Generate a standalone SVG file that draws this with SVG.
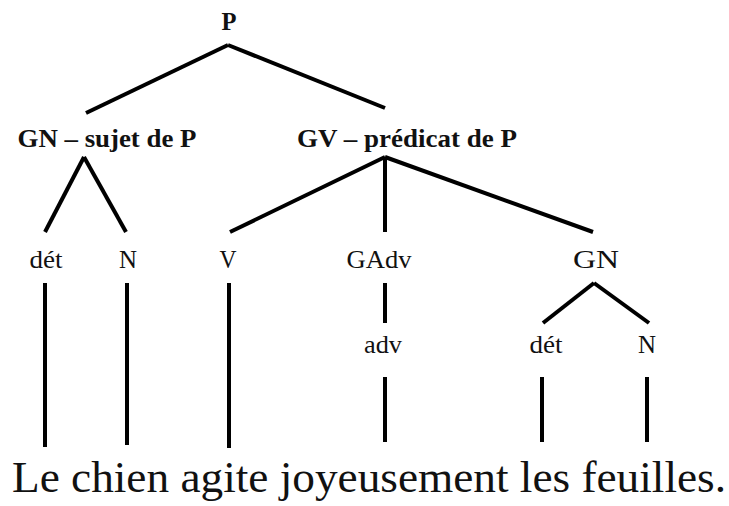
<svg xmlns="http://www.w3.org/2000/svg" width="729" height="506" viewBox="0 0 729 506">
  <style>
    .lbl { font-family: "Liberation Serif", "Times New Roman", serif; font-size: 26px; fill: #111; text-anchor: middle; }
    .b { font-weight: bold; }
    .edge { stroke: #000; stroke-width: 4; fill: none; stroke-linecap: butt; }
    .sent { font-family: "Liberation Serif", "Times New Roman", serif; font-size: 44px; fill: #111; }
  </style>
  <rect width="729" height="506" fill="#fff"/>

  <g id="connectors">
    <!-- P -->
    <line class="edge" x1="228" y1="45" x2="86" y2="113"/>
    <line class="edge" x1="228" y1="45" x2="385" y2="108"/>
    <!-- GN sujet -->
    <line class="edge" x1="84" y1="157" x2="45" y2="232"/>
    <line class="edge" x1="84" y1="157" x2="126" y2="232"/>
    <!-- GV predicat -->
    <line class="edge" x1="385" y1="157" x2="230" y2="232"/>
    <line class="edge" x1="385" y1="157" x2="385" y2="232"/>
    <line class="edge" x1="385" y1="157" x2="593" y2="232"/>
    <!-- terminals of the first row -->
    <line class="edge" x1="45" y1="283" x2="45" y2="447"/>
    <line class="edge" x1="127" y1="283" x2="127" y2="445"/>
    <line class="edge" x1="229" y1="283" x2="229" y2="448"/>
    <!-- GAdv -> adv -->
    <line class="edge" x1="385" y1="283" x2="385" y2="323"/>
    <!-- GN -> det, N -->
    <line class="edge" x1="594" y1="283" x2="543" y2="323"/>
    <line class="edge" x1="594" y1="283" x2="649" y2="323"/>
    <!-- second row terminals -->
    <line class="edge" x1="385" y1="377" x2="385" y2="442"/>
    <line class="edge" x1="542" y1="377" x2="542" y2="442"/>
    <line class="edge" x1="647" y1="377" x2="647" y2="442"/>
  </g>

  <g id="node-P"><text class="lbl b" x="229" y="30" font-size="24" textLength="15" lengthAdjust="spacingAndGlyphs">P</text></g>
  <g id="node-GN-sujet"><text class="lbl b" x="107" y="147" textLength="179" lengthAdjust="spacingAndGlyphs">GN – sujet de P</text></g>
  <g id="node-GV-predicat"><text class="lbl b" x="407" y="147" textLength="220" lengthAdjust="spacingAndGlyphs">GV – prédicat de P</text></g>
  <g id="node-det1"><text class="lbl" x="46" y="268" textLength="33" lengthAdjust="spacingAndGlyphs">dét</text></g>
  <g id="node-N1"><text class="lbl" x="128" y="268" textLength="18" lengthAdjust="spacingAndGlyphs">N</text></g>
  <g id="node-V"><text class="lbl" x="228" y="268" textLength="17" lengthAdjust="spacingAndGlyphs">V</text></g>
  <g id="node-GAdv"><text class="lbl" x="379" y="268" textLength="65" lengthAdjust="spacingAndGlyphs">GAdv</text></g>
  <g id="node-GN2"><text class="lbl" x="596" y="268" textLength="46" lengthAdjust="spacingAndGlyphs">GN</text></g>
  <g id="node-adv"><text class="lbl" x="383" y="353" textLength="38" lengthAdjust="spacingAndGlyphs">adv</text></g>
  <g id="node-det2"><text class="lbl" x="546" y="353" textLength="33" lengthAdjust="spacingAndGlyphs">dét</text></g>
  <g id="node-N2"><text class="lbl" x="647" y="353" textLength="18" lengthAdjust="spacingAndGlyphs">N</text></g>

  <g id="sentence"><text class="sent" x="12" y="492" textLength="714" lengthAdjust="spacingAndGlyphs">Le chien agite joyeusement les feuilles.</text></g>
</svg>
